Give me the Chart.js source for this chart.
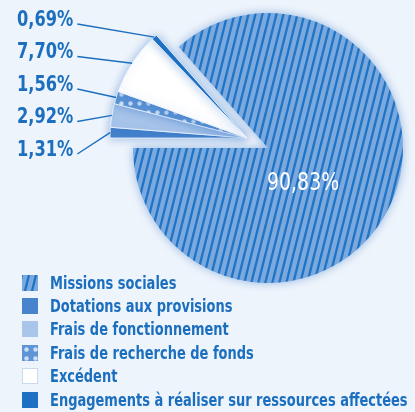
<!DOCTYPE html>
<html><head><meta charset="utf-8">
<script src="https://cdn.jsdelivr.net/npm/chart.js@4.4.0/dist/chart.umd.min.js"></script>
<style>
html,body{margin:0;padding:0;background:#eef4fb;}
#wrap{position:relative;width:415px;height:412px;overflow:hidden;background:#eef4fb;}
canvas.c{position:absolute;left:0;top:0;}
#legend{position:absolute;left:22px;top:271px;font-family:"Liberation Sans Narrow","Arial Narrow","DejaVu Sans Condensed",sans-serif;font-weight:bold;font-size:17px;color:#1c6fbf;white-space:nowrap;}
.row{height:23.4px;display:flex;align-items:center;}
.row canvas{width:16px;height:16px;margin-right:12px;flex:none;}
.row span{display:inline-block;transform:scaleX(0.85);transform-origin:left center;}
</style></head>
<body><div id="wrap">
<canvas id="main" class="c" width="415" height="412"></canvas>
<canvas id="parts" class="c" width="415" height="412"></canvas>
<div id="legend"></div></div>
<script>
// ---- data ----
const categories = ["Missions sociales","Dotations aux provisions","Frais de fonctionnement","Frais de recherche de fonds","Excédent","Engagements à réaliser sur ressources affectées"];
const values = [90.83, 1.31, 2.92, 1.56, 7.70, 0.69];
const valueLabels = ["90,83%","1,31%","2,92%","1,56%","7,70%","0,69%"];

// ---- styles ----
const textColor = '#1c6fbf';
const FONT = '"Liberation Sans Narrow","Arial Narrow","DejaVu Sans Condensed",sans-serif';

function makeHatch(){
  const c=document.createElement('canvas'); c.width=7; c.height=28;
  const x=c.getContext('2d');
  x.fillStyle='#7aa9df'; x.fillRect(0,0,7,28);
  x.strokeStyle='#2173c3'; x.lineWidth=2.3;
  for (const o of [-7,0,7]){ x.beginPath(); x.moveTo(o,28); x.lineTo(o+7,0); x.stroke(); }
  return x.createPattern(c,'repeat');
}
function makeDots(){
  const c=document.createElement('canvas'); c.width=9; c.height=9;
  const x=c.getContext('2d');
  x.fillStyle='#5f95d6'; x.fillRect(0,0,9,9);
  x.fillStyle='#cfe0f5'; x.beginPath(); x.arc(4.5,4.5,2.2,0,Math.PI*2); x.fill();
  return x.createPattern(c,'repeat');
}
const hatch = makeHatch();
const dots = makeDots();
const colors = [hatch, '#4884cd', '#a9c5ea', dots, '#ffffff', '#1e70c2'];
const transparent = 'rgba(0,0,0,0)';

const total = values.reduce((a,b)=>a+b,0);
const rotation = 270 + (total - values[0]) / total * 360;

function scaledText(ctx, text, x, y, sx){
  ctx.save(); ctx.translate(x, y); ctx.scale(sx, 1); ctx.fillText(text, 0, 0); ctx.restore();
  return ctx.measureText(text).width * sx;
}

const shadowPlugin = {
  id:'shadowFx',
  beforeDatasetsDraw(chart){ const c=chart.ctx; c.save(); c.shadowColor='rgba(40,110,200,0.45)'; c.shadowBlur=10; },
  afterDatasetsDraw(chart){ chart.ctx.restore(); }
};

const bigLabel = {
  id:'bigLabel',
  afterDraw(chart){
    const el = chart.getDatasetMeta(0).data[0];
    const ctx = chart.ctx; ctx.save();
    ctx.font = '25px ' + FONT; ctx.fillStyle = '#ffffff';
    ctx.textAlign='center'; ctx.textBaseline='middle';
    scaledText(ctx, valueLabels[0], el.x + el.outerRadius*0.26, el.y + el.outerRadius*0.26, 0.84);
    ctx.restore();
  }
};

const sideLabels = {
  id:'sideLabels',
  afterDraw(chart){
    const meta = chart.getDatasetMeta(0);
    const ctx = chart.ctx; ctx.save();
    ctx.font = 'bold 22px ' + FONT;
    ctx.fillStyle = textColor; ctx.strokeStyle = textColor; ctx.lineWidth = 1.4;
    ctx.textAlign='left'; ctx.textBaseline='middle';
    const order = [5,4,3,2,1];
    order.forEach((i,k)=>{
      const ly = 20 + k*32.5;
      const el = meta.data[i];
      const mid = (el.startAngle + el.endAngle)/2;
      const px = el.x + Math.cos(mid)*el.outerRadius;
      const py = el.y + Math.sin(mid)*el.outerRadius;
      const w = scaledText(ctx, valueLabels[i], 17, ly, 0.82);
      ctx.beginPath(); ctx.moveTo(17 + w + 4, ly + 4); ctx.lineTo(px, py); ctx.stroke();
    });
    ctx.restore();
  }
};

// main slice (Missions sociales)
new Chart(document.getElementById('main'), {
  type:'pie',
  data:{ labels:categories, datasets:[{ data:values,
    backgroundColor: colors.map((c,i)=> i===0 ? c : transparent),
    borderWidth:0 }]},
  options:{ responsive:false, animation:false, rotation,
    layout:{padding:{left:133,right:12,top:13,bottom:129}},
    plugins:{legend:{display:false}, tooltip:{enabled:false}} },
  plugins:[shadowPlugin, bigLabel]
});

// exploded small slices
new Chart(document.getElementById('parts'), {
  type:'pie',
  data:{ labels:categories, datasets:[{ data:values,
    backgroundColor: colors.map((c,i)=> i===0 ? transparent : c),
    borderColor: colors.map((c,i)=> i===0 ? transparent : 'rgba(235,243,252,0.9)'),
    borderWidth:1 }]},
  options:{ responsive:false, animation:false, rotation,
    layout:{padding:{left:109.5,right:30.5,top:0.5,bottom:136.5}},
    plugins:{legend:{display:false}, tooltip:{enabled:false}} },
  plugins:[shadowPlugin, sideLabels]
});

// legend
const lg = document.getElementById('legend');
categories.forEach((name,i)=>{
  const row = document.createElement('div'); row.className='row';
  const sw = document.createElement('canvas'); sw.width=16; sw.height=16;
  const sx = sw.getContext('2d');
  sx.fillStyle = colors[i]; sx.fillRect(0,0,16,16);
  if (i===4){ sx.strokeStyle='#c9daf0'; sx.lineWidth=1; sx.strokeRect(0.5,0.5,15,15); }
  const t = document.createElement('span'); t.textContent = name;
  row.appendChild(sw); row.appendChild(t); lg.appendChild(row);
});
</script>
</body></html>
